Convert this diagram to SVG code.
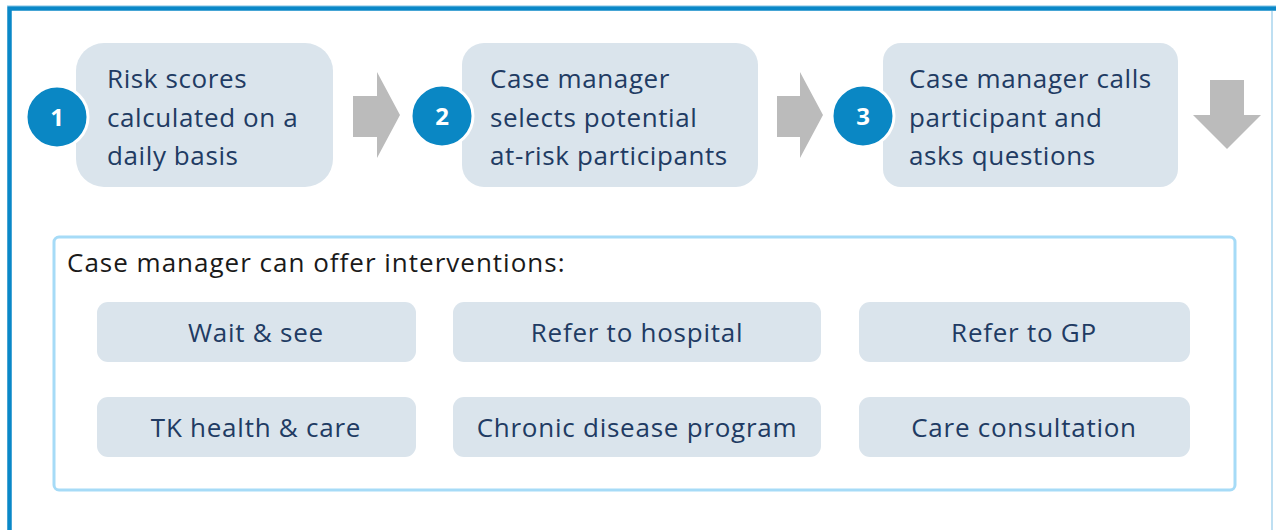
<svg xmlns="http://www.w3.org/2000/svg" width="1276" height="530" viewBox="0 0 1276 530">
<style>
.step{fill:#DAE4EC}
.num{fill:#0A87C4;stroke:#fff;stroke-width:3}
.numt{font-family:"Open Sans","Liberation Sans",sans-serif;font-size:24px;font-weight:bold;fill:#fff;text-anchor:middle}
.st{font-family:"Open Sans","Liberation Sans",sans-serif;font-size:26px;letter-spacing:0.6px;fill:#213B63}
.arrow{fill:#BBBBBB}
.opt{fill:#DAE4EC}
.ot{font-family:"Open Sans","Liberation Sans",sans-serif;font-size:26px;letter-spacing:0.75px;fill:#213B63;text-anchor:middle}
.title{font-family:"Open Sans","Liberation Sans",sans-serif;font-size:26px;letter-spacing:1px;fill:#1a1a1a}
</style>
<rect width="1276" height="530" fill="#fff"/>
<g id="frame">
<path d="M9.5 530 V8.5 H1276" fill="none" stroke="#0A88C8" stroke-width="4.5"/>
<path d="M7 5.5 H1276" stroke="#BFE0F2" stroke-width="1"/>
<path d="M1272 11 V530" stroke="#A9D4EE" stroke-width="1.5"/>
</g>
<g id="connectors">
<path class="arrow" d="M353 96 H377 V72 L400 115 L377 158 V137 H353 Z"/>
<path class="arrow" d="M777 96 H800 V72 L823 115 L800 158 V137 H777 Z"/>
<path class="arrow" d="M1210 80 H1244 V115 H1261 L1227 149 L1193 115 H1210 Z"/>
</g>
<g id="step1">
<rect class="step" x="76" y="43" width="257" height="144" rx="28"/>
<circle class="num" cx="57" cy="117" r="31"/>
<text class="numt" x="57" y="126">1</text>
<text class="st" x="107" y="88">Risk scores</text>
<text class="st" x="107" y="127">calculated on a</text>
<text class="st" x="107" y="165">daily basis</text>
</g>
<g id="step2">
<rect class="step" x="462" y="43" width="296" height="144" rx="22"/>
<circle class="num" cx="442" cy="116" r="31"/>
<text class="numt" x="442" y="125">2</text>
<text class="st" x="490" y="88">Case manager</text>
<text class="st" x="490" y="127">selects potential</text>
<text class="st" x="490" y="165">at-risk participants</text>
</g>
<g id="step3">
<rect class="step" x="883" y="43" width="295" height="144" rx="18"/>
<circle class="num" cx="863" cy="116" r="31"/>
<text class="numt" x="863" y="125">3</text>
<text class="st" x="909" y="88">Case manager calls</text>
<text class="st" x="909" y="127">participant and</text>
<text class="st" x="909" y="165">asks questions</text>
</g>
<g id="interventions">
<rect x="54" y="237" width="1181" height="253" rx="5" fill="#fff" stroke="#A6DBF7" stroke-width="3"/>
<text class="title" x="67" y="272">Case manager can offer interventions:</text>
</g>
<g id="opt1"><rect class="opt" x="97" y="302" width="319" height="60" rx="11"/><text class="ot" x="256" y="342">Wait &amp; see</text></g>
<g id="opt2"><rect class="opt" x="453" y="302" width="368" height="60" rx="11"/><text class="ot" x="637" y="342">Refer to hospital</text></g>
<g id="opt3"><rect class="opt" x="859" y="302" width="331" height="60" rx="11"/><text class="ot" x="1024" y="342">Refer to GP</text></g>
<g id="opt4"><rect class="opt" x="97" y="397" width="319" height="60" rx="11"/><text class="ot" x="256" y="437">TK health &amp; care</text></g>
<g id="opt5"><rect class="opt" x="453" y="397" width="368" height="60" rx="11"/><text class="ot" x="637" y="437">Chronic disease program</text></g>
<g id="opt6"><rect class="opt" x="859" y="397" width="331" height="60" rx="11"/><text class="ot" x="1024" y="437">Care consultation</text></g>
</svg>
